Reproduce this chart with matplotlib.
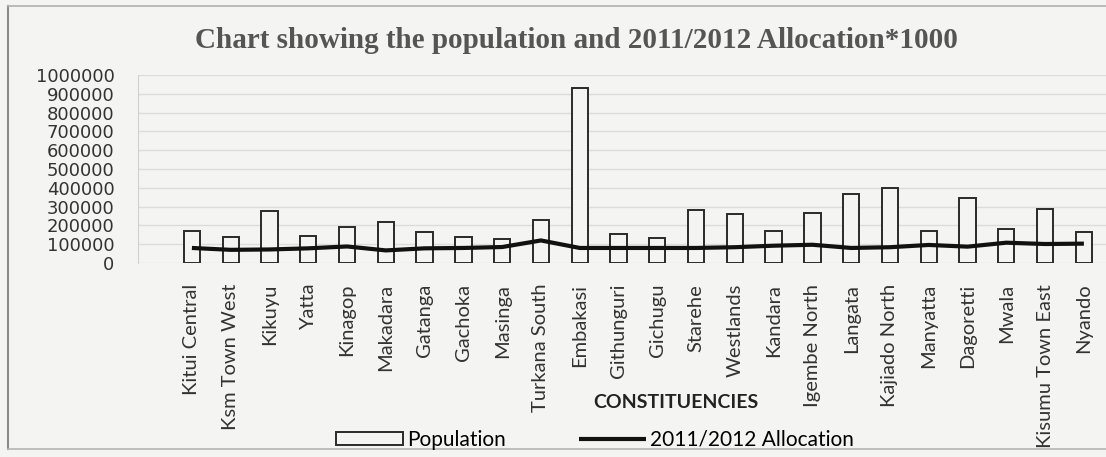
import matplotlib
matplotlib.use("Agg")
import matplotlib.pyplot as plt
import numpy as np

# data
constituencies = ["Kitui Central", "Ksm Town West", "Kikuyu", "Yatta", "Kinagop",
                  "Makadara", "Gatanga", "Gachoka", "Masinga", "Turkana South",
                  "Embakasi", "Githunguri", "Gichugu", "Starehe", "Westlands",
                  "Kandara", "Igembe North", "Langata", "Kajiado North", "Manyatta",
                  "Dagoretti", "Mwala", "Kisumu Town East", "Nyando"]
population = [172000, 138000, 278000, 146000, 190000, 220000, 167000, 137000, 129000, 231000,
              930000, 153000, 132000, 283000, 260000, 171000, 265000, 368000, 400000, 170000,
              346000, 181000, 287000, 165000]
allocation = [80000, 70000, 72000, 78000, 88000, 67000, 78000, 80000, 85000, 120000,
              80000, 80000, 80000, 80000, 84000, 92000, 97000, 80000, 84000, 96000,
              87000, 108000, 101000, 103000]
y_ticks = list(range(0, 1000001, 100000))

W, H = 1106, 457
bg = "#f4f4f2"
fig = plt.figure(figsize=(W / 100, H / 100), dpi=100, facecolor=bg)

# axes box in pixels: left 138, right 1106, zero at y=263, 1M at y=75
ax = fig.add_axes([138 / W, 1 - 263 / H, (W - 138) / W, (263 - 75) / H])
ax.set_facecolor(bg)

x = np.arange(len(constituencies))
bars = ax.bar(x, population, width=0.42, facecolor=bg, edgecolor="#2a2a2a", linewidth=1.4,
              label="Population", zorder=2)
line, = ax.plot(x, allocation, color="#111111", linewidth=3.0, label="2011/2012 Allocation",
                zorder=3, solid_capstyle="butt")

ax.set_ylim(0, 1000000)
ax.set_xlim(-1.39, 23.57)
ax.set_yticks(y_ticks)
ax.set_yticklabels([str(v) for v in y_ticks], fontfamily="DejaVu Sans", fontsize=13,
                   color="#333333")
ax.set_xticks(x)
ax.set_xticklabels(constituencies, rotation=90, fontfamily="Lato", fontsize=14.5,
                   color="#333333", va="top", ha="center")
ax.tick_params(axis="y", length=0, pad=17)
ax.tick_params(axis="x", length=0, pad=15)
ax.grid(axis="y", color="#dcdcdc", linewidth=1.0, zorder=0)
for s in ["top", "right", "bottom"]:
    ax.spines[s].set_visible(False)
ax.spines["left"].set_color("#d0d0d0")

fig.text(576 / W, 1 - 40 / H, "Chart showing the population and 2011/2012 Allocation*1000",
         ha="center", va="center", fontfamily="Liberation Serif", fontsize=21,
         fontweight="bold", color="#555555")
fig.text(676 / W, 1 - 403 / H, "CONSTITUENCIES", ha="center", va="center",
         fontfamily="Lato", fontweight="bold", fontsize=14, color="#222222")

fig.legend(handles=[bars, line], loc="center", bbox_to_anchor=(595 / W, 1 - 440 / H),
           ncol=2, frameon=False, prop={"family": "Lato", "size": 15}, handlelength=3.2,
           handleheight=0.6, handletextpad=0.2, columnspacing=3.5)

# outer frame of the scanned chart
fig.add_artist(plt.Line2D([8 / W, 8 / W], [1 - 6 / H, 1 - 449 / H], color="#8a8a8a",
                          linewidth=1.5, transform=fig.transFigure))
fig.add_artist(plt.Line2D([8 / W, 1], [1 - 6 / H, 1 - 6 / H], color="#b0b0b0",
                          linewidth=1.2, transform=fig.transFigure))
fig.add_artist(plt.Line2D([8 / W, 1], [1 - 449 / H, 1 - 449 / H], color="#b5b5b5",
                          linewidth=1.2, transform=fig.transFigure))

fig.savefig("out.png", dpi=100, facecolor=bg)
